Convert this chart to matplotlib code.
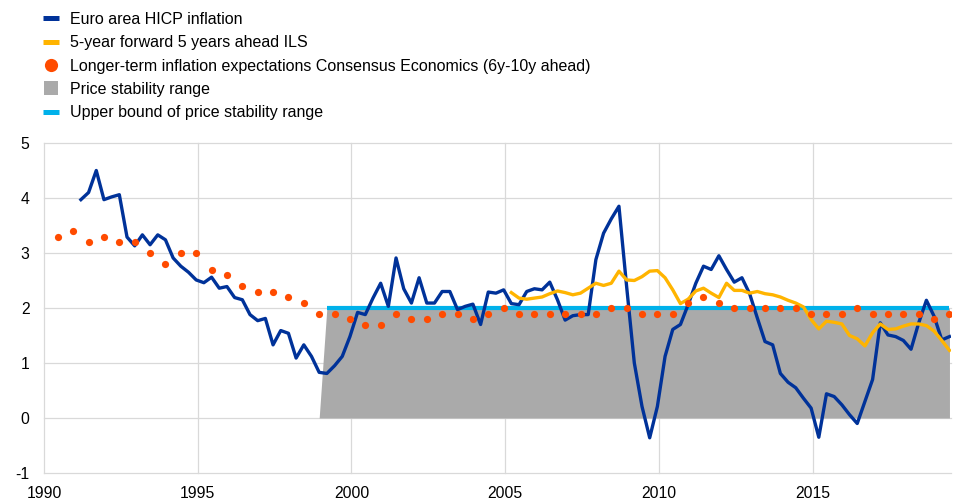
import numpy as np
import matplotlib
matplotlib.use("Agg")
import matplotlib.pyplot as plt
from matplotlib.lines import Line2D

plt.rcParams['font.family'] = ['Liberation Sans', 'DejaVu Sans']

# ---- data ----
# Euro area HICP inflation, quarterly from 1991 Q1 to 2019 Q2
hicp = [3.97, 4.10, 4.50, 3.97, 4.02, 4.06, 3.29, 3.13, 3.33, 3.15, 3.33, 3.24,
        2.91, 2.76, 2.65, 2.51, 2.46, 2.56, 2.36, 2.39, 2.19, 2.15, 1.88, 1.77,
        1.81, 1.33, 1.59, 1.54, 1.09, 1.33, 1.12, 0.83, 0.81, 0.95, 1.12, 1.48,
        1.92, 1.88, 2.18, 2.45, 2.03, 2.91, 2.35, 2.09, 2.55, 2.09, 2.09, 2.30,
        2.30, 1.97, 2.03, 2.07, 1.70, 2.29, 2.27, 2.33, 2.08, 2.06, 2.30, 2.35,
        2.33, 2.47, 2.15, 1.78, 1.86, 1.88, 1.88, 2.88, 3.36, 3.62, 3.85, 2.39,
        1.00, 0.21, -0.36, 0.21, 1.12, 1.61, 1.70, 2.06, 2.45, 2.76, 2.70, 2.95,
        2.70, 2.47, 2.55, 2.26, 1.82, 1.39, 1.33, 0.81, 0.65, 0.55, 0.36, 0.18,
        -0.35, 0.44, 0.39, 0.24, 0.06, -0.10, 0.30, 0.70, 1.73, 1.51, 1.48, 1.41,
        1.25, 1.73, 2.14, 1.85, 1.42, 1.48]
hicp_start = 1991.2

# 5-year forward 5 years ahead ILS, quarterly from 2005 Q1
ils = [2.28, 2.18, 2.16, 2.18, 2.20, 2.26, 2.31, 2.28, 2.24, 2.27, 2.36, 2.45,
       2.41, 2.45, 2.67, 2.51, 2.50, 2.57, 2.67, 2.68, 2.55, 2.33, 2.08, 2.16,
       2.31, 2.36, 2.27, 2.19, 2.45, 2.32, 2.32, 2.27, 2.30, 2.26, 2.24, 2.20,
       2.14, 2.09, 2.02, 1.79, 1.62, 1.76, 1.74, 1.71, 1.50, 1.44, 1.31, 1.55,
       1.71, 1.61, 1.62, 1.67, 1.71, 1.71, 1.68, 1.58, 1.41, 1.23]
ils_start = 2005.2

# Consensus Economics longer-term expectations, semi-annual from 1990 (spring)
consensus = [3.3, 3.4, 3.2, 3.3, 3.2, 3.2, 3.0, 2.8, 3.0, 3.0, 2.7, 2.6, 2.4, 2.3,
             2.3, 2.2, 2.1, 1.9, 1.9, 1.8, 1.7, 1.7, 1.9, 1.8, 1.8, 1.9, 1.9, 1.8,
             1.9, 2.0, 1.9, 1.9, 1.9, 1.9, 1.9, 1.9, 2.0, 2.0, 1.9, 1.9, 1.9, 2.1,
             2.2, 2.1, 2.0, 2.0, 2.0, 2.0, 2.0, 1.9, 1.9, 1.9, 2.0, 1.9, 1.9, 1.9,
             1.9, 1.8, 1.9]
consensus_start = 1990.45

# Price stability range (0 to below 2%) since 1999 Q1
range_upper = 2.0
range_start = 1999.2

labels = ["Euro area HICP inflation",
          "5-year forward 5 years ahead ILS",
          "Longer-term inflation expectations Consensus Economics (6y-10y ahead)",
          "Price stability range",
          "Upper bound of price stability range"]
x_ticks = [1990, 1995, 2000, 2005, 2010, 2015]
y_ticks = [-1, 0, 1, 2, 3, 4, 5]

c_hicp = "#003299"
c_ils = "#FFB400"
c_cons = "#FF4B00"
c_gray = "#AAAAAA"
c_cyan = "#00B1EA"

# ---- positions ----
hx = hicp_start + 0.25 * np.arange(len(hicp))
ix = ils_start + 0.25 * np.arange(len(ils))
cx = consensus_start + 0.5 * np.arange(len(consensus))
range_vals = np.where(hx >= range_start - 0.01, range_upper, 0.0)
mask_prev = hx >= range_start - 0.26

fig = plt.figure(figsize=(9.57, 5.03), dpi=100)
ax = fig.add_axes([44 / 957, 1 - 473 / 503, (951 - 44) / 957, (473 - 143) / 503])

ax.fill_between(hx[mask_prev], 0, range_vals[mask_prev], color=c_gray, lw=0, zorder=1)
m = hx >= range_start - 0.01
ax.plot(hx[m], range_vals[m], color=c_cyan, lw=3.0, zorder=2, solid_capstyle='butt')
ax.plot(hx, hicp, color=c_hicp, lw=2.4, zorder=3)
ax.plot(ix, ils, color=c_ils, lw=2.4, zorder=4)
ax.plot(cx, consensus, ls='none', marker='o', ms=5.2, color=c_cons,
        markeredgewidth=0, zorder=5)

ax.set_xlim(1990, 2019.5)
ax.set_ylim(-1, 5)
ax.set_xticks(x_ticks)
ax.set_yticks(y_ticks)
ax.set_xticklabels([str(t) for t in x_ticks])
ax.set_yticklabels([str(t) for t in y_ticks])
ax.tick_params(axis='both', length=0, labelsize=11.3, colors='black')
ax.tick_params(axis='y', pad=10.5)
ax.tick_params(axis='x', pad=9)
ax.grid(True, color='#D9D9D9', lw=0.9, zorder=0)
ax.set_axisbelow(True)
for gl in ax.get_ygridlines() + ax.get_xgridlines():
    gl.set_clip_on(False)
for s in ax.spines.values():
    s.set_visible(False)

handles = [
    Line2D([], [], color=c_hicp, lw=3.6, solid_capstyle='butt'),
    Line2D([], [], color=c_ils, lw=3.6, solid_capstyle='butt'),
    Line2D([], [], ls='none', marker='o', ms=9.5, color=c_cons, markeredgewidth=0),
    Line2D([], [], ls='none', marker='s', ms=9.5, color=c_gray, markeredgewidth=0),
    Line2D([], [], color=c_cyan, lw=3.6, solid_capstyle='butt'),
]
fig.legend(handles, labels, loc='upper left', bbox_to_anchor=(43 / 957, 1 - 12 / 503),
           frameon=False, fontsize=11.5, handlelength=1.0, handletextpad=0.67,
           labelspacing=0.52, borderaxespad=0, borderpad=0)

fig.savefig("out.png", dpi=100)
